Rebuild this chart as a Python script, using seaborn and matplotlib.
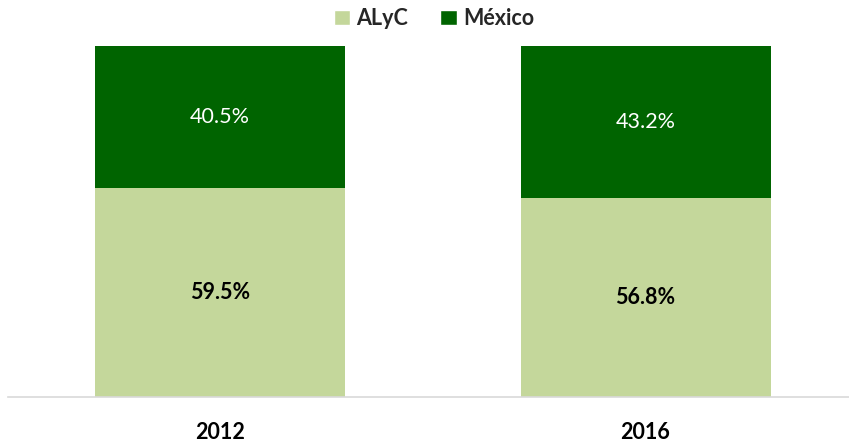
import matplotlib
matplotlib.use("Agg")
import matplotlib.pyplot as plt
import seaborn as sns
import pandas as pd
from matplotlib.patches import Patch

years = ["2012", "2016"]
alyc = [59.5, 56.8]
mexico = [40.5, 43.2]

c_light = "#C4D79B"
c_dark = "#006400"

sns.set_theme(style="white")
plt.rcParams["font.family"] = ["Lato", "DejaVu Sans"]

fig = plt.figure(figsize=(8.49, 4.42), dpi=100)
ax = fig.add_axes([0.0094, 0.1018, 0.9906, 0.7942])

df = pd.DataFrame({"year": years, "alyc": alyc, "mexico": mexico})
df["total"] = df["alyc"] + df["mexico"]

sns.barplot(data=df, x="year", y="total", color=c_dark, width=0.5875,
            saturation=1, ax=ax, linewidth=0)
sns.barplot(data=df, x="year", y="alyc", color=c_light, width=0.5875,
            saturation=1, ax=ax, linewidth=0)

for i, (a, m) in enumerate(zip(alyc, mexico)):
    ax.text(i, a / 2, f"{a:.1f}%", ha="center", va="center",
            fontsize=15.5, fontweight="bold", color="black")
    ax.text(i, a + m / 2, f"{m:.1f}%", ha="center", va="center",
            fontsize=15.5, color="white")

ax.set_xlim(-0.498, 1.478)
ax.set_ylim(0, 100)
ax.set_xlabel("")
ax.set_ylabel("")
ax.set_yticks([])
for s in ["top", "left", "right"]:
    ax.spines[s].set_visible(False)
ax.spines["bottom"].set_color("#D9D9D9")
ax.spines["bottom"].set_linewidth(1.2)
ax.tick_params(axis="x", length=0, pad=18)
for lbl in ax.get_xticklabels():
    lbl.set_fontweight("bold")
    lbl.set_fontsize(15.5)
    lbl.set_color("black")

handles = [Patch(facecolor=c_light, label="ALyC"),
           Patch(facecolor=c_dark, label="México")]
fig.legend(handles=handles, loc="center", bbox_to_anchor=(0.511, 0.958),
           ncol=2, frameon=False, handlelength=0.75, handleheight=0.75,
           columnspacing=1.5, handletextpad=0.3,
           prop={"weight": "bold", "size": 15.5, "family": ["Lato", "DejaVu Sans"]})

fig.savefig("out.png", dpi=100)
